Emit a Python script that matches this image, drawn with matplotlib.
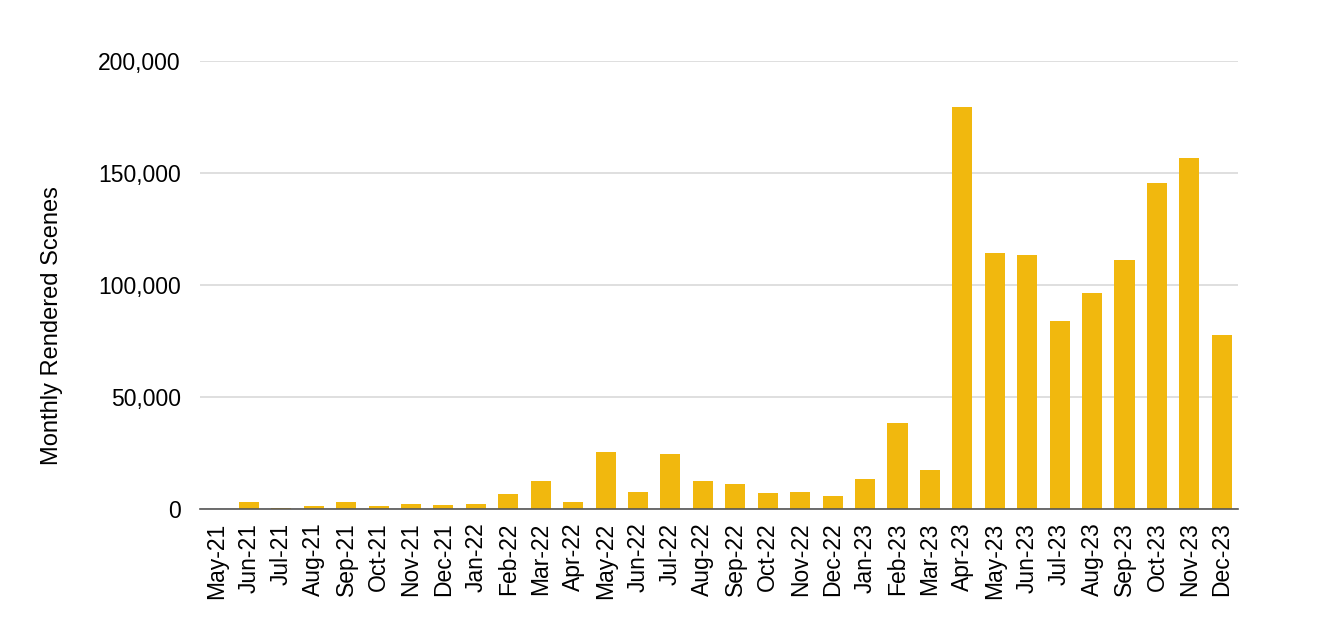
import matplotlib.pyplot as plt
from matplotlib.ticker import FuncFormatter

plt.rcParams['font.family'] = ['Liberation Sans', 'DejaVu Sans']

# monthly counts
months = ['May-21', 'Jun-21', 'Jul-21', 'Aug-21', 'Sep-21', 'Oct-21', 'Nov-21', 'Dec-21',
          'Jan-22', 'Feb-22', 'Mar-22', 'Apr-22', 'May-22', 'Jun-22', 'Jul-22', 'Aug-22',
          'Sep-22', 'Oct-22', 'Nov-22', 'Dec-22', 'Jan-23', 'Feb-23', 'Mar-23', 'Apr-23',
          'May-23', 'Jun-23', 'Jul-23', 'Aug-23', 'Sep-23', 'Oct-23', 'Nov-23', 'Dec-23']
scenes = [0, 3200, 200, 1200, 3200, 1200, 2200, 1700,
          2200, 6400, 12400, 3200, 25500, 7500, 24700, 12500,
          11300, 7000, 7500, 5900, 13400, 38500, 17300, 179300,
          114200, 113200, 83800, 96600, 111100, 145400, 156700, 77700]
yticks = [0, 50000, 100000, 150000, 200000]

fig = plt.figure(figsize=(13.17, 6.36), dpi=100)
ax = fig.add_axes([0.152, 0.2, 0.788, 0.704])

x = list(range(len(months)))
ax.bar(x, scenes, width=0.62, color='#F1B80E', zorder=3)

ax.set_xlim(-0.5, len(months) - 0.5)
ax.set_ylim(0, 200000)
ax.set_yticks(yticks)
ax.yaxis.set_major_formatter(FuncFormatter(lambda v, p: f'{int(v):,}'))
ax.set_xticks(x)
ax.set_xticklabels(months, rotation=90)
ax.tick_params(axis='both', length=0, labelsize=16.5, colors='black')
ax.tick_params(axis='y', pad=14)
ax.tick_params(axis='x', pad=10)

ax.grid(axis='y', color='#D9D9D9', linewidth=1.2, zorder=0)
for s in ['top', 'right', 'left']:
    ax.spines[s].set_visible(False)
ax.spines['bottom'].set_color('#555555')
ax.spines['bottom'].set_linewidth(1.2)
ax.spines['bottom'].set_zorder(4)

ax.set_ylabel('Monthly Rendered Scenes', fontsize=17)
ax.yaxis.set_label_coords(-0.132, 0.41)

fig.savefig('out.png', dpi=100)
